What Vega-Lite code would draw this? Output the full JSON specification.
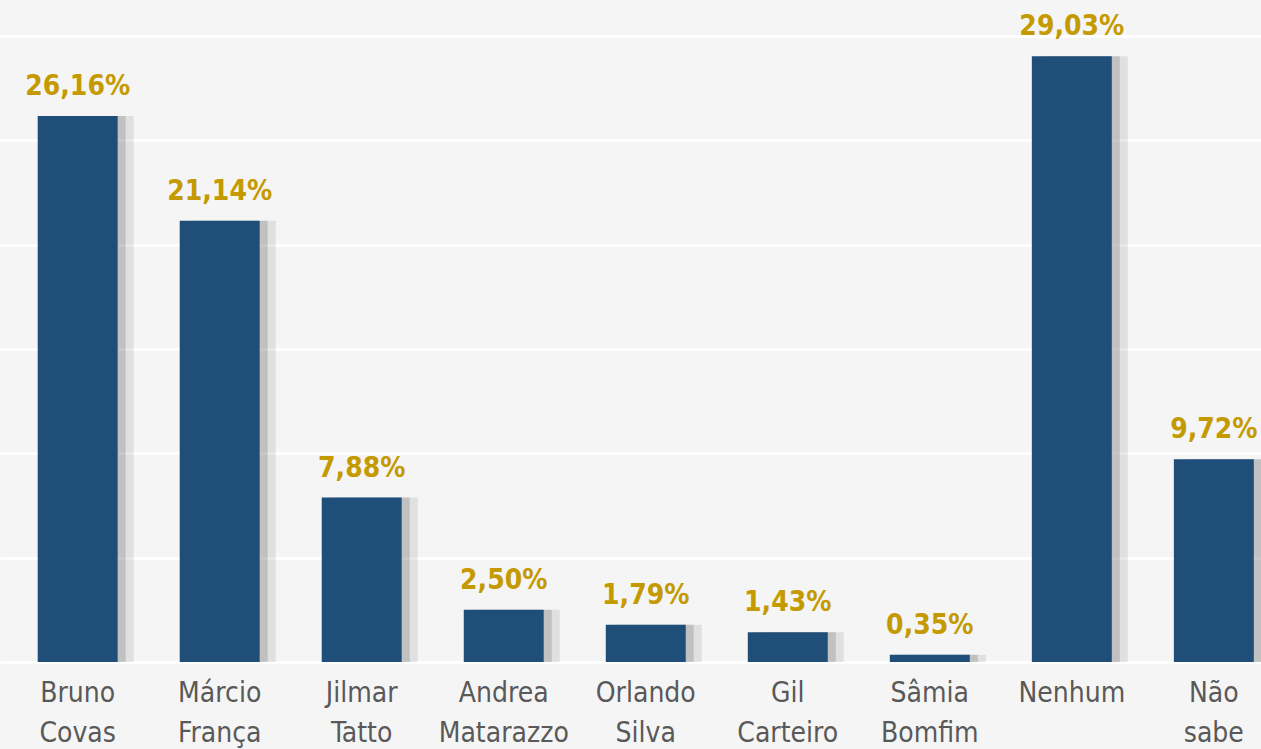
{
  "$schema": "https://vega.github.io/schema/vega-lite/v6.json",
  "width": 1261,
  "height": 662,
  "autosize": {"type": "none"},
  "padding": {"left": 0, "top": 0, "right": 0, "bottom": 87},
  "background": "#f5f5f5",
  "config": {"view": {"stroke": null}},
  "data": {
    "values": [
      {"candidato": "Bruno Covas", "pct": 26.16, "rotulo": "26,16%"},
      {"candidato": "Márcio França", "pct": 21.14, "rotulo": "21,14%"},
      {"candidato": "Jilmar Tatto", "pct": 7.88, "rotulo": "7,88%"},
      {"candidato": "Andrea Matarazzo", "pct": 2.50, "rotulo": "2,50%"},
      {"candidato": "Orlando Silva", "pct": 1.79, "rotulo": "1,79%"},
      {"candidato": "Gil Carteiro", "pct": 1.43, "rotulo": "1,43%"},
      {"candidato": "Sâmia Bomfim", "pct": 0.35, "rotulo": "0,35%"},
      {"candidato": "Nenhum", "pct": 29.03, "rotulo": "29,03%"},
      {"candidato": "Não sabe", "pct": 9.72, "rotulo": "9,72%"}
    ]
  },
  "encoding": {
    "x": {
      "field": "candidato",
      "type": "nominal",
      "sort": null,
      "scale": {"paddingInner": 0.437, "paddingOuter": 0.158, "align": 0.84},
      "axis": {
        "title": null,
        "domain": false,
        "ticks": false,
        "labelAngle": 0,
        "labelExpr": "split(datum.label, ' ')",
        "labelFont": "DejaVu Sans Condensed",
        "labelFontSize": 28,
        "labelColor": "#595959",
        "labelLineHeight": 40,
        "labelPadding": 17,
        "labelBaseline": "top",
        "labelLimit": 300
      }
    },
    "y": {
      "field": "pct",
      "type": "quantitative",
      "scale": {"domain": [0, 31.72], "nice": false},
      "axis": {
        "title": null,
        "domain": false,
        "ticks": false,
        "labels": false,
        "values": [0, 5, 10, 15, 20, 25, 30],
        "grid": true,
        "gridColor": "#ffffff",
        "gridWidth": 3
      }
    }
  },
  "layer": [
    {
      "mark": {"type": "bar", "color": "#8c8c8c", "opacity": 0.2, "xOffset": 16}
    },
    {
      "mark": {"type": "bar", "color": "#7a7a7a", "opacity": 0.3, "xOffset": 8}
    },
    {
      "mark": {"type": "bar", "color": "#1f4e79"}
    },
    {
      "mark": {"type": "text", "color": "#c49a00", "font": "DejaVu Sans Condensed", "fontWeight": "bold", "fontSize": 28, "baseline": "alphabetic", "dy": -21},
      "encoding": {"text": {"field": "rotulo"}}
    }
  ]
}
